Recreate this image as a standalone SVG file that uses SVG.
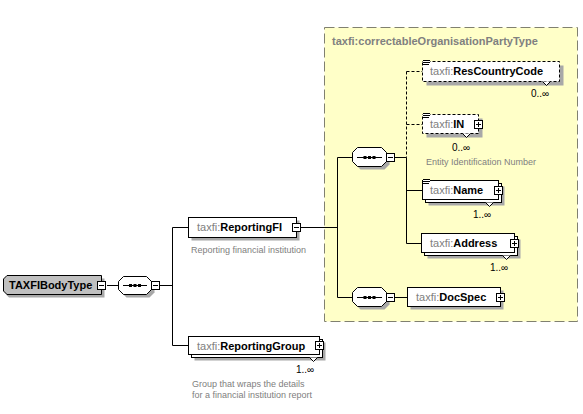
<svg xmlns="http://www.w3.org/2000/svg" width="583" height="414" viewBox="0 0 583 414">
<defs>
<style>
.ln{stroke:#000;stroke-width:1;fill:none}
.dash{stroke-dasharray:3,2}
.box{fill:#fff;stroke:#000;stroke-width:1}
.dbox{fill:#fff;stroke:#000;stroke-width:1;stroke-dasharray:3,2}
.sh{fill:#a8a8a8}
.t{font-family:"Liberation Sans",Arial,sans-serif;font-size:11px;fill:#000}
.ns{fill:#808080;font-weight:normal}
.nm{font-weight:bold;fill:#000}
.doc{font-family:"Liberation Sans",Arial,sans-serif;font-size:9px;fill:#808080}
.occ{font-family:"Liberation Sans",Arial,sans-serif;font-size:10px;fill:#000}
.notch{fill:#fff;stroke:#000;stroke-width:1}
</style>
<g id="minus"><rect x="0.5" y="0.5" width="8" height="8" class="box"/><path d="M2,4.5H7" class="ln"/></g>
<g id="plus"><rect x="0.5" y="0.5" width="8" height="8" class="box"/><path d="M2,4.5H7M4.5,2V7" class="ln"/></g>
<g id="doci"><rect x="0" y="0" width="7" height="6" fill="#fff"/><path d="M0,0.5H7M0,2.5H7M0,4.5H6" stroke="#000" stroke-width="1"/></g>
</defs>

<rect width="583" height="414" fill="#fff"/>

<g id="type-container">
<rect x="324.5" y="27.5" width="253" height="294" fill="#ffffc8" stroke="#808070" stroke-width="1" stroke-dasharray="10,4"/>
<text x="332" y="45" class="t" style="fill:#808080;font-weight:bold">taxfi:correctableOrganisationPartyType</text>
</g>

<g id="connectors">
<path d="M107,285.5H118.5" class="ln"/>
<path d="M160,285.5H172.5M172.5,227.5V345.5M172.5,227.5H188.5M172.5,345.5H188.5" class="ln"/>
<path d="M301,227.5H337.5M337.5,157.5V297.5M337.5,157.5H352.5M337.5,297.5H352.5" class="ln"/>
<path d="M395,157.5H406.5M406.5,157.5V243.5M406.5,190.5H422.5M406.5,243.5H421.5" class="ln"/>
<path d="M406.5,71.5V157.5M406.5,71.5H422.5M406.5,124.5H422.5" class="ln dash"/>
<path d="M395,297.5H407.5" class="ln"/>
</g>

<g id="TAXFIBodyType">
<path d="M9,278.5H104.5V297.5H9L6,294.5V281.5Z" class="sh"/>
<path d="M7,275.5H101.5V294.5H7L3.5,291V279Z" fill="#c0c0c0" stroke="#000" stroke-width="1"/>
<text x="9" y="289" class="t nm">TAXFIBodyType</text>
<use href="#minus" x="97" y="281"/>
</g>

<g id="seq-root">
<polygon points="126.5,279.5 149.5,279.5 154.5,284.5 154.5,292.5 149.5,297.5 126.5,297.5 121.5,292.5 121.5,284.5" class="sh"/>
<polygon points="123.5,276.5 146.5,276.5 151.5,281.5 151.5,289.5 146.5,294.5 123.5,294.5 118.5,289.5 118.5,281.5" class="box"/>
<path d="M123,285.5H147" class="ln"/>
<rect x="129" y="284" width="3" height="3"/><rect x="133.5" y="284" width="3" height="3"/><rect x="138" y="284" width="3" height="3"/>
<use href="#minus" x="151" y="281"/>
</g>

<g id="ReportingFI">
<rect x="191.5" y="220.5" width="108" height="20" class="sh"/>
<rect x="188.5" y="217.5" width="108" height="20" class="box"/>
<text x="197" y="231" class="t"><tspan class="ns">taxfi:</tspan><tspan class="nm">ReportingFI</tspan></text>
<use href="#minus" x="292" y="223"/>
<text x="191" y="253" class="doc">Reporting financial institution</text>
</g>

<g id="ReportingGroup">
<rect x="194.5" y="342.5" width="131" height="18" class="sh"/>
<rect x="191.5" y="339.5" width="131" height="18" class="box"/>
<rect x="188.5" y="336.5" width="131" height="18" class="box"/>
<text x="197" y="350" class="t"><tspan class="ns">taxfi:</tspan><tspan class="nm">ReportingGroup</tspan></text>
<use href="#plus" x="315" y="341"/>
<polyline points="309.5,357.5 313.5,361.5 317.5,357.5" class="notch"/>
<text x="296" y="373" class="occ">1..∞</text>
<text x="192" y="387" class="doc">Group that wraps the details</text>
<text x="192" y="398" class="doc">for a financial institution report</text>
</g>

<g id="seq-fi">
<polygon points="360.5,150.5 384.5,150.5 389.5,155.5 389.5,164.5 384.5,169.5 360.5,169.5 355.5,164.5 355.5,155.5" class="sh"/>
<polygon points="357.5,147.5 381.5,147.5 386.5,152.5 386.5,161.5 381.5,166.5 357.5,166.5 352.5,161.5 352.5,152.5" class="box"/>
<path d="M357,157.5H382" class="ln"/>
<rect x="363.5" y="156" width="3" height="3"/><rect x="368" y="156" width="3" height="3"/><rect x="372.5" y="156" width="3" height="3"/>
<use href="#minus" x="386" y="153"/>
</g>

<g id="ResCountryCode">
<rect x="426.5" y="65.5" width="137" height="20" class="sh"/>
<rect x="422.5" y="61.5" width="137" height="20" class="dbox"/>
<use href="#doci" x="423" y="60"/>
<text x="430" y="75" class="t"><tspan class="ns">taxfi:</tspan><tspan class="nm">ResCountryCode</tspan></text>
<polyline points="542.5,81.5 546.5,85.5 550.5,81.5" class="notch"/>
<text x="531" y="97" class="occ">0..∞</text>
</g>

<g id="IN">
<rect x="426.5" y="118.5" width="56" height="19" class="sh"/>
<rect x="422.5" y="114.5" width="56" height="19" class="dbox"/>
<use href="#doci" x="423" y="113"/>
<text x="430" y="128" class="t"><tspan class="ns">taxfi:</tspan><tspan class="nm">IN</tspan></text>
<use href="#plus" x="474" y="120"/>
<polyline points="462.5,133.5 466.5,137.5 470.5,133.5" class="notch"/>
<text x="452" y="151" class="occ">0..∞</text>
<text x="426" y="165" class="doc">Entity Identification Number</text>
</g>

<g id="Name">
<rect x="428.5" y="186.5" width="76" height="19" class="sh"/>
<rect x="425.5" y="183.5" width="76" height="19" class="box"/>
<rect x="422.5" y="180.5" width="76" height="19" class="box"/>
<use href="#doci" x="423" y="179"/>
<text x="430" y="194" class="t"><tspan class="ns">taxfi:</tspan><tspan class="nm">Name</tspan></text>
<use href="#plus" x="494" y="186"/>
<polyline points="485.5,202.5 489.5,206.5 493.5,202.5" class="notch"/>
<text x="473" y="218" class="occ">1..∞</text>
</g>

<g id="Address">
<rect x="427.5" y="239.5" width="93" height="19" class="sh"/>
<rect x="424.5" y="236.5" width="93" height="19" class="box"/>
<rect x="421.5" y="233.5" width="93" height="19" class="box"/>
<text x="430" y="247" class="t"><tspan class="ns">taxfi:</tspan><tspan class="nm">Address</tspan></text>
<use href="#plus" x="510" y="239"/>
<polyline points="502.5,255.5 506.5,259.5 510.5,255.5" class="notch"/>
<text x="490" y="271" class="occ">1..∞</text>
</g>

<g id="seq-doc">
<polygon points="360.5,290.5 384.5,290.5 389.5,295.5 389.5,304.5 384.5,309.5 360.5,309.5 355.5,304.5 355.5,295.5" class="sh"/>
<polygon points="357.5,287.5 381.5,287.5 386.5,292.5 386.5,301.5 381.5,306.5 357.5,306.5 352.5,301.5 352.5,292.5" class="box"/>
<path d="M357,297.5H382" class="ln"/>
<rect x="363.5" y="296" width="3" height="3"/><rect x="368" y="296" width="3" height="3"/><rect x="372.5" y="296" width="3" height="3"/>
<use href="#minus" x="386" y="293"/>
</g>

<g id="DocSpec">
<rect x="410.5" y="290.5" width="93" height="19" class="sh"/>
<rect x="407.5" y="287.5" width="93" height="19" class="box"/>
<text x="416" y="301" class="t"><tspan class="ns">taxfi:</tspan><tspan class="nm">DocSpec</tspan></text>
<use href="#plus" x="496" y="293"/>
</g>
</svg>
